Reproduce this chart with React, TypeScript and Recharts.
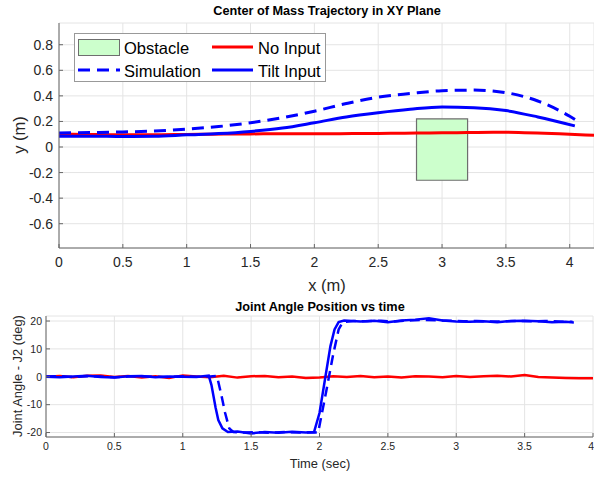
import React from 'react'
import {
  ComposedChart, Line, XAxis, YAxis, CartesianGrid, ReferenceArea,
} from 'recharts'

const FONT = '"Liberation Sans", Arial, Helvetica, sans-serif'
const RED = '#ff0000'
const BLUE = '#0000ff'
const GRID = '#e4e4e4'
const AXIS = '#666666'
const TEXT = '#262626'

// Center of mass path in the XY plane (m)
const noInputX = [0, 0.2, 0.4, 0.6, 0.8, 1.0, 1.2, 1.4, 1.6, 1.8, 2.0, 2.2, 2.4, 2.6, 2.8, 3.0, 3.2, 3.4, 3.6, 3.8, 4.0, 4.19]
const noInputY = [0.100, 0.098, 0.096, 0.095, 0.096, 0.098, 0.100, 0.102, 0.103, 0.104, 0.103, 0.104, 0.106, 0.107, 0.109, 0.111, 0.113, 0.116, 0.114, 0.108, 0.099, 0.091]

const tiltX = [0, 0.25, 0.5, 0.75, 1.0, 1.25, 1.5, 1.75, 2.0, 2.25, 2.5, 2.75, 3.0, 3.25, 3.5, 3.75, 4.04]
const tiltY = [0.085, 0.085, 0.082, 0.084, 0.095, 0.105, 0.122, 0.148, 0.19, 0.235, 0.268, 0.295, 0.313, 0.308, 0.285, 0.235, 0.165]

const simX = [0, 0.25, 0.5, 0.75, 1.0, 1.25, 1.5, 1.75, 2.0, 2.25, 2.5, 2.75, 3.0, 3.25, 3.5, 3.75, 4.0, 4.08]
const simY = [0.11, 0.113, 0.118, 0.125, 0.14, 0.16, 0.19, 0.23, 0.28, 0.34, 0.39, 0.418, 0.44, 0.445, 0.425, 0.36, 0.24, 0.19]

const obstacle = { x1: 2.8, x2: 3.2, y1: -0.26, y2: 0.22 }

const xyTicksX = [0, 0.5, 1, 1.5, 2, 2.5, 3, 3.5, 4]
const xyTicksY = [-0.6, -0.4, -0.2, 0, 0.2, 0.4, 0.6, 0.8]

// Joint angle J2 over time (deg)
const noInputT = [0, 0.1, 0.2, 0.3, 0.4, 0.5, 0.6, 0.7, 0.8, 0.9, 1.0, 1.1, 1.2, 1.3, 1.4, 1.5, 1.6, 1.7, 1.8, 1.9, 2.0, 2.1, 2.2, 2.3, 2.4, 2.5, 2.6, 2.7, 2.8, 2.9, 3.0, 3.1, 3.2, 3.3, 3.4, 3.5, 3.6, 3.7, 3.8, 3.9, 4.0]
const noInputA = [0, 0.3, -0.2, 0.4, 0.5, -0.1, 0.3, -0.3, 0.2, -0.4, 0.5, 0.1, -0.2, 0.4, -0.3, 0.2, 0.3, -0.2, 0.1, -0.4, -0.3, 0.2, -0.1, 0.3, -0.2, 0.1, -0.3, 0.2, 0.1, -0.2, 0.3, -0.1, 0.2, 0.4, 0.1, 0.6, -0.1, -0.3, -0.4, -0.5, -0.5]

const tiltT = [0, 0.1, 0.2, 0.3, 0.4, 0.5, 0.6, 0.7, 0.8, 0.9, 1.0, 1.1, 1.19, 1.21, 1.24, 1.26, 1.29, 1.33, 1.4, 1.5, 1.6, 1.7, 1.8, 1.9, 1.96, 2.0, 2.04, 2.08, 2.11, 2.14, 2.18, 2.3, 2.4, 2.5, 2.6, 2.7, 2.8, 2.9, 3.0, 3.1, 3.2, 3.3, 3.4, 3.5, 3.6, 3.7, 3.8, 3.86]
const tiltA = [0, -0.2, 0.1, 0.4, -0.1, -0.3, 0.2, 0.3, -0.2, 0.1, 0, -0.1, 0.4, -3, -11, -15.5, -18.5, -19.8, -19.6, -20.3, -19.8, -20.1, -19.7, -20, -19.8, -13, -1, 11, 17, 19.6, 20.2, 19.8, 20.1, 19.6, 20.2, 20.5, 21, 20.2, 19.8, 19.7, 19.9, 19.6, 20, 20.1, 19.9, 19.6, 19.7, 19.5]

const simT = [0, 0.1, 0.2, 0.3, 0.4, 0.5, 0.6, 0.7, 0.8, 0.9, 1.0, 1.1, 1.2, 1.25, 1.28, 1.31, 1.34, 1.37, 1.45, 1.55, 1.65, 1.75, 1.85, 1.95, 1.99, 2.05, 2.1, 2.14, 2.17, 2.25, 2.35, 2.45, 2.55, 2.65, 2.75, 2.85, 2.95, 3.05, 3.15, 3.25, 3.35, 3.45, 3.55, 3.65, 3.75, 3.85]
const simA = [0.1, 0.2, -0.1, 0.2, 0.1, -0.2, 0.1, 0.2, 0, -0.1, 0.2, 0, 0.1, 0.3, -6, -13, -18.5, -19.8, -20, -19.9, -20.1, -19.8, -20, -19.9, -20, -5, 8, 17, 19.6, 20, 19.9, 20.1, 19.8, 20.2, 20.4, 20.3, 20.1, 19.9, 20, 19.8, 19.9, 20, 19.9, 20, 19.8, 19.7]

const angleTicksT = [0, 0.5, 1, 1.5, 2, 2.5, 3, 3.5, 4]
const angleTicksA = [-20, -10, 0, 10, 20]

function pts(xs: number[], ys: number[]) {
  return xs.map((x, i) => ({ x, y: ys[i] }))
}

const absText = (left: number, top: number, size: number, bold = false, rotate = false): React.CSSProperties => ({
  position: 'absolute',
  left,
  top,
  fontSize: size,
  fontWeight: bold ? 'bold' : 'normal',
  color: bold ? '#000' : TEXT,
  whiteSpace: 'nowrap',
  lineHeight: 1,
  transform: `translate(-50%, -50%)${rotate ? ' rotate(-90deg)' : ''}`,
})

// bottom x ticks: keep the last label inside the picture
function TimeTick(props: any) {
  const { x, y, payload } = props
  const last = payload.value === 4
  return (
    <text
      x={last ? x + 1 : x}
      y={y}
      dy="0.71em"
      textAnchor={last ? 'end' : 'middle'}
      fontSize={10.5}
      fill={TEXT}
      fontFamily={FONT}
    >
      {payload.value}
    </text>
  )
}

function XYLegend() {
  return (
    <svg
      width={252}
      height={49}
      style={{ position: 'absolute', left: 74, top: 33, background: '#fff', fontFamily: FONT }}
    >
      <rect x={0.5} y={0.5} width={251} height={48} fill="#fff" stroke="#999" />
      <rect x={4.5} y={6.5} width={41} height={16} fill="#ccffcc" stroke="#6e6e6e" />
      <text x={50} y={15} fontSize={16.5} dominantBaseline="central" fill="#000">Obstacle</text>
      <line x1={138} x2={179} y1={14} y2={14} stroke={RED} strokeWidth={3} />
      <text x={184} y={15} fontSize={16.5} dominantBaseline="central" fill="#000">No Input</text>
      <line x1={4} x2={46} y1={37} y2={37} stroke={BLUE} strokeWidth={3} strokeDasharray="12 7" />
      <text x={50} y={38} fontSize={16.5} dominantBaseline="central" fill="#000">Simulation</text>
      <line x1={138} x2={179} y1={37} y2={37} stroke={BLUE} strokeWidth={3} />
      <text x={184} y={38} fontSize={16.5} dominantBaseline="central" fill="#000">Tilt Input</text>
    </svg>
  )
}

export default function App() {
  const tick14 = { fontSize: 14, fill: TEXT, fontFamily: FONT }
  const tick10 = { fontSize: 10.5, fill: TEXT, fontFamily: FONT }

  return (
    <div style={{ position: 'absolute', left: 0, top: 0, width: 594, height: 479, background: '#fff', fontFamily: FONT, overflow: 'hidden' }}>
      {/* top: XY trajectory */}
      <div style={{ position: 'absolute', left: 0, top: 0 }}>
        <ComposedChart width={594} height={300} margin={{ top: 23, right: 0, bottom: 0, left: 0 }}>
          <CartesianGrid stroke={GRID} />
          <XAxis
            type="number"
            dataKey="x"
            domain={[0, 4.19]}
            ticks={xyTicksX}
            interval={0}
            allowDataOverflow
            height={52}
            axisLine={{ stroke: AXIS }}
            tickLine={{ stroke: AXIS }}
            tickSize={-4}
            tickMargin={13}
            tick={tick14}
          />
          <YAxis
            type="number"
            domain={[-0.79, 0.97]}
            ticks={xyTicksY}
            interval={0}
            allowDataOverflow
            width={59}
            axisLine={{ stroke: AXIS }}
            tickLine={{ stroke: AXIS }}
            tickSize={-4}
            tickMargin={10}
            tick={tick14}
          />
          <ReferenceArea {...obstacle} fill="#ccffcc" fillOpacity={1} stroke="#6e6e6e" strokeWidth={1.2} />
          <Line data={pts(noInputX, noInputY)} dataKey="y" type="monotone" stroke={RED} strokeWidth={3} dot={false} activeDot={false} isAnimationActive={false} />
          <Line data={pts(simX, simY)} dataKey="y" type="monotone" stroke={BLUE} strokeWidth={3} strokeDasharray="12 7" dot={false} activeDot={false} isAnimationActive={false} />
          <Line data={pts(tiltX, tiltY)} dataKey="y" type="monotone" stroke={BLUE} strokeWidth={3} dot={false} activeDot={false} isAnimationActive={false} />
        </ComposedChart>
      </div>
      <div style={absText(327, 11, 12.7, true)}>Center of Mass Trajectory in XY Plane</div>
      <div style={absText(327, 285, 16.5)}>x (m)</div>
      <div style={absText(19, 135, 16.5, false, true)}>y (m)</div>
      <XYLegend />

      {/* bottom: joint angle */}
      <div style={{ position: 'absolute', left: 0, top: 290 }}>
        <ComposedChart width={594} height={189} margin={{ top: 26, right: 1, bottom: 0, left: 0 }}>
          <CartesianGrid stroke={GRID} />
          <XAxis
            type="number"
            dataKey="x"
            domain={[0, 4]}
            ticks={angleTicksT}
            interval={0}
            allowDataOverflow
            height={42}
            axisLine={{ stroke: AXIS }}
            tickLine={{ stroke: AXIS }}
            tickSize={-4}
            tickMargin={10}
            tick={<TimeTick />}
          />
          <YAxis
            type="number"
            domain={[-21.6, 21.8]}
            ticks={angleTicksA}
            interval={0}
            allowDataOverflow
            width={46}
            axisLine={{ stroke: AXIS }}
            tickLine={{ stroke: AXIS }}
            tickSize={-4}
            tickMargin={8}
            tick={tick10}
          />
          <Line data={pts(noInputT, noInputA)} dataKey="y" type="linear" stroke={RED} strokeWidth={2.5} dot={false} activeDot={false} isAnimationActive={false} />
          <Line data={pts(simT, simA)} dataKey="y" type="linear" stroke={BLUE} strokeWidth={2.5} strokeDasharray="10 6" dot={false} activeDot={false} isAnimationActive={false} />
          <Line data={pts(tiltT, tiltA)} dataKey="y" type="linear" stroke={BLUE} strokeWidth={2.5} dot={false} activeDot={false} isAnimationActive={false} />
        </ComposedChart>
      </div>
      <div style={absText(320, 307, 12.7, true)}>Joint Angle Position vs time</div>
      <div style={absText(320, 464, 12.9)}>Time (sec)</div>
      <div style={absText(18, 376, 12.9, false, true)}>Joint Angle - J2 (deg)</div>
    </div>
  )
}
